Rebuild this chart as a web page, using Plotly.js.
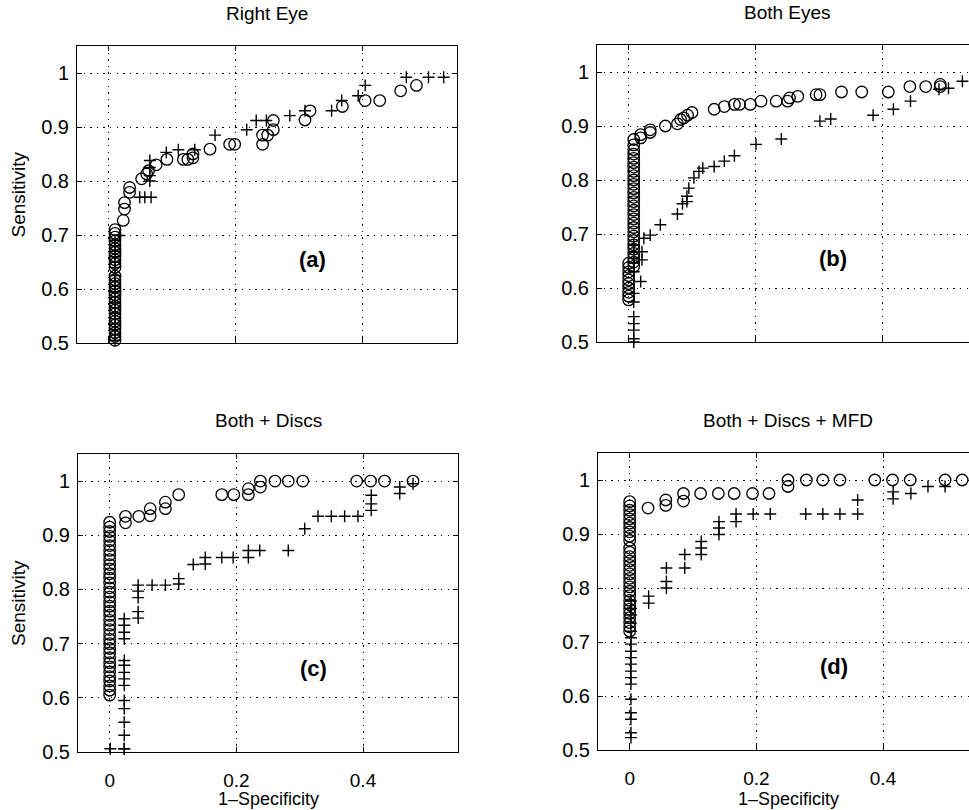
<!DOCTYPE html>
<html>
<head>
<meta charset="utf-8">
<script src="https://cdn.plot.ly/plotly-3.0.1.min.js"></script>
<style>
html,body{margin:0;padding:0;overflow:hidden;background:#fff;}
#chart{width:985px;height:810px;}
</style>
</head>
<body>
<div id="chart"></div>
<script>
// ---------- DATA ----------
const panelTitles = ["Right Eye", "Both Eyes", "Both + Discs", "Both + Discs + MFD"];
const panelLabels = ["(a)", "(b)", "(c)", "(d)"];
const yTickVals = [0.5, 0.6, 0.7, 0.8, 0.9, 1];
const yTickText = ["0.5", "0.6", "0.7", "0.8", "0.9", "1"];
const xTickVals = [0, 0.2, 0.4];
const xTickText = ["0", "0.2", "0.4"];
const xTitle = "1\u2013Specificity";
const yTitle = "Sensitivity";

// (a) Right Eye
const aCircX = [0.01,0.01,0.01,0.01,0.01,0.01,0.01,0.01,0.01,0.01,0.01,0.01,0.01,0.01,0.01,0.01,0.01,0.01,0.01,0.01,0.01,0.01,0.01,0.01,0.01,0.01,0.01,0.01,0.01,
  0.023,0.025,0.025,0.033,0.033,0.052,0.06,0.063,0.075,0.092,0.118,0.125,0.133,0.133,0.16,0.191,0.199,0.243,0.243,0.251,0.26,0.26,0.31,0.318,0.369,0.405,0.428,0.461,0.486];
const aCircY = [0.505,0.512,0.519,0.526,0.533,0.54,0.547,0.554,0.561,0.568,0.575,0.582,0.589,0.596,0.603,0.61,0.617,0.624,0.64,0.647,0.654,0.661,0.668,0.675,0.682,0.689,0.696,0.703,0.71,
  0.727,0.748,0.76,0.779,0.788,0.804,0.813,0.819,0.83,0.84,0.84,0.84,0.843,0.85,0.859,0.868,0.868,0.868,0.885,0.885,0.895,0.912,0.913,0.93,0.938,0.949,0.949,0.967,0.977];
const aPlusX = [0.01,0.01,0.01,0.01,0.01,0.01,0.01,0.01,0.01,0.01,0.01,0.01,0.01,0.01,0.01,0.01,0.01,0.01,0.01,0.017,
  0.049,0.057,0.067,0.065,0.065,0.065,0.065,0.091,0.11,0.136,0.168,0.218,0.233,0.249,0.286,0.31,0.352,0.368,0.394,0.405,0.47,0.505,0.529];
const aPlusY = [0.505,0.515,0.525,0.535,0.545,0.555,0.565,0.575,0.585,0.595,0.605,0.615,0.625,0.64,0.65,0.66,0.67,0.68,0.69,0.699,
  0.77,0.77,0.77,0.8,0.81,0.825,0.838,0.853,0.858,0.858,0.885,0.895,0.912,0.912,0.921,0.93,0.93,0.949,0.958,0.977,0.992,0.992,0.992];

// (b) Both Eyes
const bCircX = [0,0,0,0,0,0,0,0,0,0,
  0.008,0.008,0.008,0.008,0.008,0.008,0.008,0.008,0.008,0.008,0.008,0.008,0.008,0.008,0.008,0.008,0.008,0.008,0.008,0.008,0.008,0.008,0.008,0.008,0.008,0.008,0.008,0.008,0.008,0.008,
  0.019,0.019,0.034,0.034,0.058,0.077,0.082,0.087,0.093,0.1,0.135,0.151,0.167,0.175,0.192,0.209,0.233,0.251,0.254,0.267,0.296,0.302,0.336,0.368,0.41,0.444,0.469,0.492,0.492];
const bCircY = [0.578,0.585,0.592,0.6,0.608,0.615,0.623,0.63,0.638,0.646,
  0.64,0.648,0.656,0.664,0.672,0.68,0.688,0.696,0.704,0.712,0.72,0.728,0.736,0.744,0.752,0.76,0.768,0.776,0.784,0.792,0.8,0.808,0.816,0.824,0.832,0.84,0.848,0.856,0.865,0.875,
  0.878,0.884,0.888,0.893,0.9,0.904,0.912,0.915,0.92,0.925,0.931,0.936,0.94,0.94,0.94,0.946,0.946,0.946,0.952,0.955,0.958,0.958,0.963,0.963,0.963,0.973,0.973,0.973,0.977];
const bPlusX = [0.008,0.008,0.008,0.008,0.008,0.008,0.008,0.008,0.008,0.008,0.008,0.008,
  0.019,0.021,0.021,0.024,0.034,0.05,0.077,0.085,0.092,0.092,0.095,0.103,0.111,0.117,0.135,0.151,0.167,0.201,0.241,0.302,0.319,0.386,0.418,0.445,0.49,0.505,0.527];
const bPlusY = [0.5,0.506,0.522,0.534,0.547,0.574,0.59,0.63,0.646,0.655,0.667,0.68,
  0.612,0.652,0.667,0.692,0.698,0.717,0.737,0.756,0.76,0.77,0.785,0.804,0.816,0.822,0.825,0.835,0.845,0.866,0.876,0.909,0.913,0.92,0.931,0.946,0.968,0.97,0.983];

// (c) Both + Discs
const cCircX = [0,0,0,0,0,0,0,0,0,0,0,0,0,0,0,0,0,0,0,0,0,0,0,0,0,0,0,0,0,0,0,0,0,0,0,0,0,0,
  0.025,0.025,0.046,0.064,0.064,0.088,0.088,0.109,0.177,0.196,0.219,0.219,0.238,0.238,0.261,0.282,0.305,0.39,0.412,0.434,0.479];
const cCircY = [0.605,0.614,0.622,0.631,0.639,0.648,0.657,0.665,0.674,0.683,0.691,0.7,0.708,0.717,0.726,0.734,0.743,0.752,0.76,0.769,0.777,0.786,0.795,0.803,0.812,0.821,0.829,0.838,0.846,0.855,0.864,0.872,0.881,0.89,0.898,0.907,0.915,0.924,
  0.923,0.935,0.935,0.936,0.949,0.949,0.961,0.975,0.975,0.975,0.975,0.986,0.989,1.0,1.0,1.0,1.0,1.0,1.0,1.0,1.0];
const cPlusX = [0.001,0.023,0.023,0.023,0.023,0.023,0.023,0.023,0.023,0.023,0.023,0.023,0.023,0.023,0.023,0.023,
  0.045,0.045,0.045,0.045,0.045,0.067,0.088,0.109,0.109,0.132,0.151,0.151,0.177,0.195,0.219,0.219,0.237,0.282,0.308,0.329,0.35,0.371,0.392,0.413,0.413,0.413,0.458,0.458,0.479];
const cPlusY = [0.506,0.506,0.531,0.555,0.58,0.595,0.623,0.635,0.647,0.66,0.669,0.709,0.721,0.734,0.746,0.506,
  0.747,0.759,0.785,0.797,0.808,0.808,0.808,0.81,0.82,0.846,0.847,0.859,0.859,0.859,0.859,0.872,0.872,0.872,0.912,0.935,0.935,0.935,0.935,0.946,0.958,0.974,0.977,0.989,0.995];

// (d) Both + Discs + MFD
const dCircX = [0,0,0,0,0,0,0,0,0,0,0,0,0,0,0,0,0,0,0,0,0,0,0,0,0,0,0,0,0,0,
  0.029,0.057,0.057,0.085,0.085,0.112,0.14,0.165,0.194,0.22,0.25,0.25,0.279,0.305,0.332,0.387,0.415,0.443,0.498,0.525];
const dCircY = [0.72,0.728,0.736,0.745,0.753,0.761,0.769,0.777,0.786,0.794,0.802,0.81,0.818,0.826,0.834,0.842,0.85,0.858,0.866,0.874,0.888,0.896,0.904,0.912,0.92,0.928,0.936,0.944,0.952,0.96,
  0.948,0.963,0.953,0.975,0.961,0.975,0.975,0.975,0.975,0.975,1.0,0.988,1.0,1.0,1.0,1.0,1.0,1.0,1.0,1.0];
const dPlusX = [0.002,0.002,0.002,0.002,0.002,0.002,0.002,0.002,0.002,0.002,0.002,0.002,0.002,0.002,0.002,0.002,0.002,0.002,
  0.03,0.03,0.058,0.058,0.058,0.087,0.087,0.113,0.113,0.113,0.141,0.141,0.141,0.168,0.168,0.195,0.222,0.278,0.305,0.332,0.36,0.36,0.416,0.416,0.444,0.471,0.498];
const dPlusY = [0.523,0.532,0.557,0.569,0.594,0.622,0.634,0.646,0.659,0.671,0.683,0.696,0.708,0.72,0.735,0.75,0.762,0.776,
  0.772,0.785,0.8,0.812,0.837,0.837,0.862,0.862,0.874,0.886,0.899,0.911,0.923,0.923,0.937,0.937,0.937,0.937,0.937,0.937,0.937,0.963,0.965,0.978,0.975,0.988,0.988];

// ---------- LAYOUT ----------
const W = 985, H = 810;
const FONT = "Liberation Sans, Arial, Helvetica, sans-serif";
// pixel boxes [left, right, top, bottom]
const boxes = [[77,457,46,343],[597,977,45,342],[78,458,454,752],[598,978,453,750]];
const circles = [[aCircX,aCircY],[bCircX,bCircY],[cCircX,cCircY],[dCircX,dCircY]];
const pluses = [[aPlusX,aPlusY],[bPlusX,bPlusY],[cPlusX,cPlusY],[dPlusX,dPlusY]];

const traces = [];
const layout = {
  width: W, height: H,
  margin: {l:0, r:0, t:0, b:0},
  paper_bgcolor: "#fff", plot_bgcolor: "#fff",
  showlegend: false,
  font: {family: FONT, size: 19, color: "#000"},
  annotations: []
};

for (let i = 0; i < 4; i++) {
  const sfx = i === 0 ? "" : String(i + 1);
  const xa = "x" + sfx, ya = "y" + sfx;
  traces.push({
    type: "scatter", mode: "markers", x: pluses[i][0], y: pluses[i][1],
    xaxis: xa, yaxis: ya, cliponaxis: false,
    marker: {symbol: "cross-thin-open", size: 8.5, color: "#000", line: {color: "#000", width: 1.4}},
    hoverinfo: "skip"
  });
  traces.push({
    type: "scatter", mode: "markers", x: circles[i][0], y: circles[i][1],
    xaxis: xa, yaxis: ya, cliponaxis: false,
    marker: {symbol: "circle-open", size: 11.5, color: "#000", line: {color: "#000", width: 1.3}},
    hoverinfo: "skip"
  });
  const b = boxes[i];
  const bottomRow = i >= 2;
  layout["xaxis" + sfx] = {
    domain: [b[0] / W, b[1] / W], anchor: ya,
    range: [-0.05, 0.55], tickvals: xTickVals, ticktext: xTickText,
    showticklabels: bottomRow, ticks: "inside", ticklen: 5, tickcolor: "#000",
    showline: true, linecolor: "#000", linewidth: 1, mirror: "ticks",
    showgrid: true, gridcolor: "#000", gridwidth: 1, griddash: "1.4px,5.2px",
    zeroline: false, ticklabelstandoff: 11,
    tickfont: {family: FONT, size: 19, color: "#000"}
  };
  layout["yaxis" + sfx] = {
    domain: [1 - b[3] / H, 1 - b[2] / H], anchor: xa,
    range: [0.5, 1.05], tickvals: yTickVals, ticktext: yTickText,
    ticks: "inside", ticklen: 5, tickcolor: "#000",
    showline: true, linecolor: "#000", linewidth: 1, mirror: "ticks",
    showgrid: true, gridcolor: "#000", gridwidth: 1, griddash: "1.4px,5.2px",
    zeroline: false, ticklabelstandoff: 3,
    tickfont: {family: FONT, size: 20, color: "#000"}
  };
  const cx = (b[0] + b[1]) / 2 / W;
  // panel title
  layout.annotations.push({
    text: panelTitles[i], xref: "paper", yref: "paper",
    x: cx, y: 1 - (b[2] - 33) / H, xanchor: "center", yanchor: "middle",
    showarrow: false, font: {family: FONT, size: 19, color: "#000"}
  });
  // panel letter
  layout.annotations.push({
    text: "<b>" + panelLabels[i] + "</b>", xref: xa, yref: ya,
    x: 0.322, y: 0.655, xanchor: "center", yanchor: "middle",
    showarrow: false, font: {family: FONT, size: 22, color: "#000"}
  });
  if (bottomRow) {
    layout.annotations.push({
      text: xTitle, xref: "paper", yref: "paper",
      x: cx, y: 0, xanchor: "center", yanchor: "bottom", yshift: -1,
      showarrow: false, font: {family: FONT, size: 18, color: "#000"}
    });
  }
  if (i % 2 === 0) {
    layout.annotations.push({
      text: yTitle, xref: "paper", yref: "paper", textangle: -90,
      x: 18 / W, y: 1 - ((b[2] + b[3]) / 2) / H, xanchor: "center", yanchor: "middle",
      showarrow: false, font: {family: FONT, size: 19, color: "#000"}
    });
  }
}

Plotly.newPlot("chart", traces, layout, {staticPlot: true, displayModeBar: false});
</script>
</body>
</html>
